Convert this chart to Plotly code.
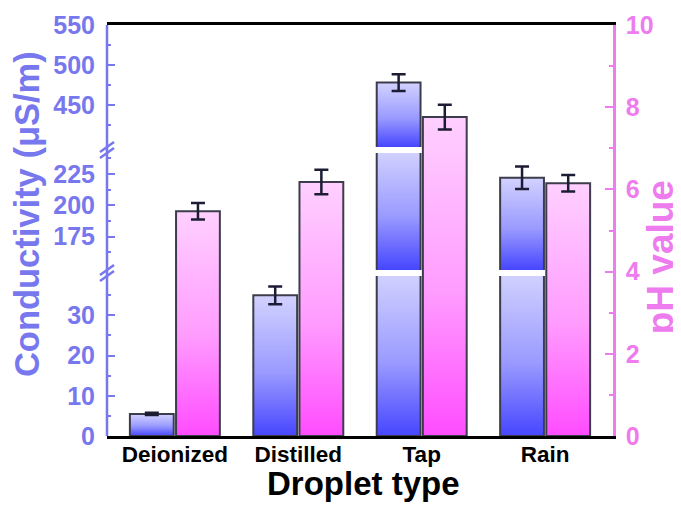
import plotly.graph_objects as go

# ---------------- data ----------------
categories = ["Deionized", "Distilled", "Tap", "Rain"]
conductivity = [5.5, 35.0, 478.0, 222.0]        # µS/m
conductivity_err = [0.3, 2.2, 10.5, 9.0]
ph_values = [5.47, 6.18, 7.76, 6.15]
ph_err = [0.2, 0.3, 0.3, 0.2]

cond_ticks_low = [0, 10, 20, 30]
cond_ticks_mid = [175, 200, 225]
cond_ticks_high = [450, 500, 550]
ph_ticks = [0, 2, 4, 6, 8, 10]

# ---------------- style / layout constants ----------------
FONT = "Liberation Sans"
BLUE_TXT = "#7878ee"
PINK_TXT = "#ee7cee"
EDGE = "#3c3c4c"
ERR = "#1c1c34"
COND_SCALE = [[0, "#4646ff"], [0.45, "#9a9aff"], [1, "#d2d2ff"]]
PH_SCALE = [[0, "#ff4cff"], [0.45, "#ff9cff"], [1, "#ffd0ff"]]

BAR_W = 0.355
OFFSET = 0.187

# broken-axis segments: (axis name, range, domain)
segments = [
    ("y", [0, 39.8], [0.0, 0.3893]),
    ("y2", [148.5, 241.7], [0.4039, 0.6886]),
    ("y3", [397.5, 550.0], [0.7032, 1.0]),
]
breaks = [0.3966, 0.6959]

fig = go.Figure()


def bar_polygon(xc, lo, hi):
    x0, x1 = xc - BAR_W / 2, xc + BAR_W / 2
    return [x0, x0, x1, x1, x0], [lo, hi, hi, lo, lo]


# conductivity bars, split over the broken axis
for i, v in enumerate(conductivity):
    xc = i - OFFSET
    x0, x1 = xc - BAR_W / 2, xc + BAR_W / 2
    for name, rng, dom in segments:
        lo = rng[0]
        if v <= lo:
            continue
        top_inside = v <= rng[1]
        hi = v if top_inside else rng[1] + (rng[1] - rng[0]) * 0.02
        px, py = bar_polygon(xc, lo, hi)
        fig.add_trace(go.Scatter(
            x=px, y=py, yaxis=name, xaxis="x", mode="lines", fill="toself",
            line=dict(width=0, color="rgba(0,0,0,0)"),
            fillgradient=dict(type="vertical", colorscale=COND_SCALE),
            hoverinfo="skip", showlegend=False))
        if top_inside:
            ox, oy = [x0, x0, x1, x1], [lo, v, v, lo]
        else:
            ox, oy = [x0, x0, None, x1, x1], [lo, hi, None, hi, lo]
        if name == "y":
            ox = ox + [None, x0, x1]
            oy = oy + [None, lo, lo]
        fig.add_trace(go.Scatter(
            x=ox, y=oy, yaxis=name, xaxis="x", mode="lines",
            line=dict(width=2, color=EDGE), hoverinfo="skip", showlegend=False))
    # error bar on the segment holding the value
    for name, rng, dom in segments:
        if rng[0] <= v <= rng[1]:
            fig.add_trace(go.Scatter(
                x=[xc], y=[v], yaxis=name, xaxis="x", mode="markers",
                marker=dict(size=1, color="rgba(0,0,0,0)"),
                error_y=dict(type="data", array=[conductivity_err[i]], color=ERR,
                             thickness=2.5, width=7),
                hoverinfo="skip", showlegend=False))

# pH bars
for i, v in enumerate(ph_values):
    xc = i + OFFSET
    px, py = bar_polygon(xc, 0, v)
    fig.add_trace(go.Scatter(
        x=px, y=py, yaxis="y4", xaxis="x", mode="lines", fill="toself",
        line=dict(width=2, color=EDGE),
        fillgradient=dict(type="vertical", colorscale=PH_SCALE),
        hoverinfo="skip", showlegend=False))
    fig.add_trace(go.Scatter(
        x=[xc], y=[v], yaxis="y4", xaxis="x", mode="markers",
        marker=dict(size=1, color="rgba(0,0,0,0)"),
        error_y=dict(type="data", array=[ph_err[i]], color=ERR,
                     thickness=2.5, width=7),
        hoverinfo="skip", showlegend=False))

tickfont_b = dict(family=FONT, size=25, color=BLUE_TXT, weight="bold")


def cond_axis(rng, dom, tickvals):
    step = tickvals[1] - tickvals[0]
    return dict(
        range=rng, domain=dom, anchor="x", side="left", automargin=False,
        tickmode="array", tickvals=tickvals,
        ticks="inside", ticklen=8, tickwidth=2, tickcolor=BLUE_TXT,
        minor=dict(ticks="inside", ticklen=4, tickwidth=2, tickcolor=BLUE_TXT,
                   tick0=tickvals[0] - step / 2, dtick=step),
        showline=False, showgrid=False, zeroline=False,
        tickfont=tickfont_b, ticklabelstandoff=11,
    )


# the page adds an 8 px body margin, so the figure is made 8 px smaller
fig.update_layout(
    width=673, height=498,
    margin=dict(l=99, r=68, t=17, b=70),
    paper_bgcolor="white", plot_bgcolor="rgba(0,0,0,0)",
    xaxis=dict(
        range=[-0.55, 3.55], tickmode="array", tickvals=list(range(len(categories))),
        ticktext=categories, ticks="", showgrid=False, zeroline=False,
        showline=True, linecolor="black", linewidth=2.5, mirror=True,
        anchor="y4", ticklabelstandoff=-4, automargin=False,
        tickfont=dict(family=FONT, size=22.5, color="black", weight="bold"),
    ),
    yaxis=cond_axis(segments[0][1], segments[0][2], cond_ticks_low),
    yaxis2=cond_axis(segments[1][1], segments[1][2], cond_ticks_mid),
    yaxis3=cond_axis(segments[2][1], segments[2][2], cond_ticks_high),
    yaxis4=dict(
        range=[0, 10], domain=[0, 1], anchor="x", side="right", automargin=False,
        tickmode="array", tickvals=ph_ticks,
        ticks="inside", ticklen=8, tickwidth=2, tickcolor=PINK_TXT,
        minor=dict(ticks="inside", ticklen=4, tickwidth=2, tickcolor=PINK_TXT,
                   tick0=1, dtick=2),
        showline=True, linecolor=PINK_TXT, linewidth=2.5,
        showgrid=False, zeroline=False,
        tickfont=dict(family=FONT, size=25, color=PINK_TXT, weight="bold"),
        ticklabelstandoff=5,
    ),
)

# left axis line (continuous through breaks) and break marks
shapes = [dict(type="line", xref="paper", yref="paper", x0=0, x1=0, y0=0, y1=1,
               line=dict(color=BLUE_TXT, width=2.5))]
for b in breaks:
    for dy in (-3, 3):
        shapes.append(dict(type="line", xref="paper", yref="paper",
                           xsizemode="pixel", ysizemode="pixel",
                           xanchor=0, yanchor=b,
                           x0=-7, x1=7, y0=dy - 5, y1=dy + 5,
                           line=dict(color=BLUE_TXT, width=2.5)))
fig.update_layout(shapes=shapes)

fig.add_annotation(text="Conductivity (μS/m)", xref="paper", yref="paper",
                   x=-0.158, y=0.54, textangle=-90, showarrow=False,
                   xanchor="center", yanchor="middle",
                   font=dict(family=FONT, size=34.5, color=BLUE_TXT, weight="bold"))
fig.add_annotation(text="pH value", xref="paper", yref="paper",
                   x=1.093, y=0.435, textangle=-90, showarrow=False,
                   xanchor="center", yanchor="middle",
                   font=dict(family=FONT, size=37, color=PINK_TXT, weight="bold"))
fig.add_annotation(text="Droplet type", xref="paper", yref="paper",
                   x=0.506, y=-0.1165, showarrow=False,
                   xanchor="center", yanchor="middle",
                   font=dict(family=FONT, size=33, color="black", weight="bold"))

fig.write_html("out.html")
